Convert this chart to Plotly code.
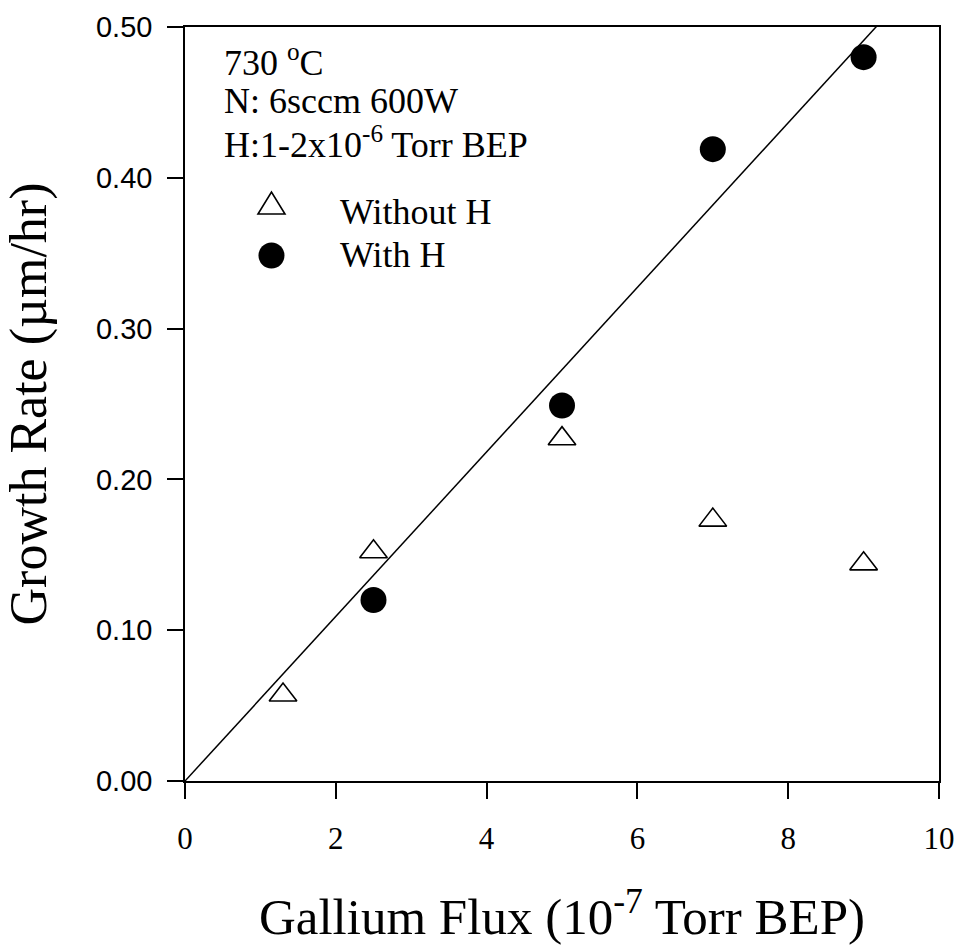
import plotly.graph_objects as go

# ---- data ----
flux_without_h = [1.3, 2.5, 5.0, 7.0, 9.0]
rate_without_h = [0.057, 0.152, 0.227, 0.173, 0.144]
flux_with_h = [2.5, 5.0, 7.0, 9.0]
rate_with_h = [0.120, 0.249, 0.419, 0.480]
x_ticks = [0, 2, 4, 6, 8, 10]
y_ticks = [0.0, 0.1, 0.2, 0.3, 0.4, 0.5]
info_lines = ["730 <sup>o</sup>C", "N: 6sccm 600W", "H:1-2x10<sup>-6</sup> Torr BEP"]
series_names = ["Without H", "With H"]

# linear fit through the origin of the "With H" series
slope = sum(x * y for x, y in zip(flux_with_h, rate_with_h)) / sum(x * x for x in flux_with_h)
fit_x = [x_ticks[0], x_ticks[-1]]
fit_y = [slope * v for v in fit_x]

SERIF = "Liberation Serif, Times New Roman, serif"
SANS = "Liberation Sans, Arial, sans-serif"

fig = go.Figure()
fig.add_trace(go.Scatter(x=fit_x, y=fit_y, mode="lines",
                         line=dict(color="black", width=1.5),
                         showlegend=False, hoverinfo="skip"))
fig.add_trace(go.Scatter(x=flux_without_h, y=rate_without_h, mode="markers",
                         name=series_names[0],
                         marker=dict(symbol="triangle-up-open", size=24, color="black",
                                     line=dict(color="black", width=1.6)),
                         showlegend=False))
fig.add_trace(go.Scatter(x=flux_with_h, y=rate_with_h, mode="markers",
                         name=series_names[1],
                         marker=dict(symbol="circle", size=26, color="black",
                                     line=dict(width=0)),
                         showlegend=False))

annotations = []
line_y = [0.955, 0.902, 0.847]
for txt, yy in zip(info_lines, line_y):
    annotations.append(dict(text=txt, x=0.050, y=yy, xref="paper", yref="paper",
                            xanchor="left", yanchor="middle", showarrow=False, borderpad=0,
                            font=dict(family=SERIF, size=36, color="black")))
for txt, yy in zip(series_names, [0.755, 0.697]):
    annotations.append(dict(text=txt, x=0.204, y=yy, xref="paper", yref="paper",
                            xanchor="left", yanchor="middle", showarrow=False, borderpad=0,
                            font=dict(family=SERIF, size=36, color="black")))

shapes = [
    dict(type="path", xref="paper", yref="paper", xsizemode="pixel", ysizemode="pixel",
         xanchor=0.1147, yanchor=0.7626, path="M-13.5,-8 L13.5,-8 L0,14 Z",
         line=dict(color="black", width=1.6), fillcolor="rgba(0,0,0,0)"),
    dict(type="circle", xref="paper", yref="paper", xsizemode="pixel", ysizemode="pixel",
         xanchor=0.1147, yanchor=0.697, x0=-13, x1=13, y0=-13, y1=13,
         line=dict(width=0), fillcolor="black"),
]

fig.update_layout(
    width=962, height=945,
    margin=dict(l=185, r=23, t=27, b=164, autoexpand=False),
    paper_bgcolor="white", plot_bgcolor="white",
    showlegend=False,
    annotations=annotations,
    shapes=shapes,
    xaxis=dict(range=[0, 10], tickvals=x_ticks, ticktext=[str(v) for v in x_ticks],
               automargin=False,
               ticks="outside", ticklen=16, tickwidth=1.5, tickcolor="black",
               ticklabelstandoff=13,
               showline=True, linecolor="black", linewidth=1.5, mirror=True,
               showgrid=False, zeroline=False,
               tickfont=dict(family=SERIF, size=31, color="black"),
               title=dict(text="Gallium Flux (10<sup>-7</sup> Torr BEP)",
                          font=dict(family=SERIF, size=51, color="black"), standoff=45)),
    yaxis=dict(range=[0, 0.5], tickvals=y_ticks, tickformat=".2f",
               automargin=False,
               ticks="outside", ticklen=16, tickwidth=1.5, tickcolor="black",
               ticklabelstandoff=9,
               showline=True, linecolor="black", linewidth=1.5, mirror=True,
               showgrid=False, zeroline=False,
               tickfont=dict(family=SANS, size=29, color="black"),
               title=dict(text="Growth Rate (\u00b5m/hr)",
                          font=dict(family=SERIF, size=52, color="black"), standoff=40)),
)

fig.write_html("out.html")
